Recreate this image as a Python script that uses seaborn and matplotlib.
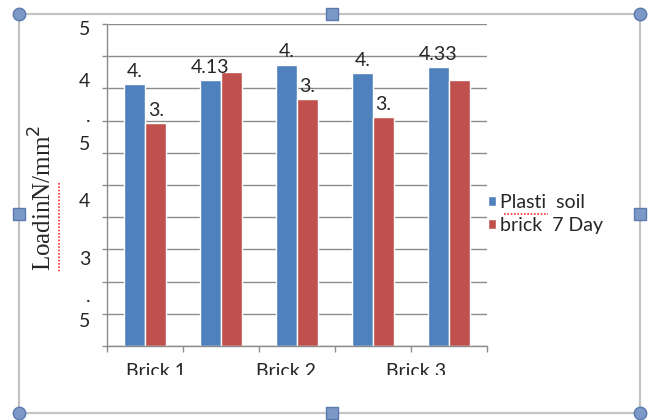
import numpy as np
import pandas as pd
import seaborn as sns
import matplotlib.pyplot as plt
from matplotlib.transforms import Bbox

# ---------------------------------------------------------------
# data (load in N/mm^2)
categories = ['B1', 'B2', 'B3', 'B4', 'B5']
series_names = ['Plasti  soil', 'brick  7 Day']
plasti_soil = [4.07, 4.13, 4.37, 4.24, 4.33]
brick_7day = [3.46, 4.25, 3.84, 3.56, 4.13]

# data labels as they show (truncated by Excel)
plasti_labels = ['4.', '4.13', '4.', '4.', '4.33']
brick_labels = ['3.', '', '3.', '3.', '']

# category labels that survive on the axis
xlabel_text = ['Brick 1', 'Brick 2', 'Brick 3']
xlabel_pos = [0.145, 1.855, 3.566]

# garbled y tick labels (wrapped text), and where they sit
ylabel_text = ['5', '4', '.', '5', '4', '3', '.', '5']
ylabel_pos = [4.94, 4.13, 3.59, 3.15, 2.27, 1.37, 0.79, 0.40]
# ---------------------------------------------------------------

df = pd.DataFrame({
    'Category': categories * 2,
    'Load': plasti_soil + brick_7day,
    'Series': [series_names[0]] * len(categories) + [series_names[1]] * len(categories),
})

colors = {series_names[0]: '#4F81BD', series_names[1]: '#C0504D'}

sns.set_style('white')
plt.rcParams['font.family'] = ['Lato', 'DejaVu Sans']

fig = plt.figure(figsize=(6.54, 4.2), dpi=100)

# selection frame of the embedded object (pixel coords)
bg = fig.add_axes([0, 0, 1, 1], zorder=-5)
bg.set_xlim(0, 654)
bg.set_ylim(420, 0)
bg.axis('off')
frame_x = [19, 640, 640, 19, 19]
frame_y = [14, 14, 413, 413, 14]
bg.plot(frame_x, frame_y, color='#c4c4c4', lw=1.6)
bg.plot([19, 640, 19, 640], [14, 14, 413, 413], 'o', ms=9,
        mfc='#7b98c6', mec='#5b7aae', mew=1)
bg.plot([332, 19, 640, 332], [14, 214, 214, 413], 's', ms=8,
        mfc='#7b98c6', mec='#5b7aae', mew=1)

ax = fig.add_axes([0.1636, 0.1762, 0.581, 0.7667])
sns.barplot(data=df, x='Category', y='Load', hue='Series', palette=colors,
            width=0.56, saturation=1.0, ax=ax, legend=True)

ax.set_ylim(0, 5)
ax.set_xlim(-0.5, 4.5)

# gridlines every 0.5
ax.set_yticks(np.arange(0, 5.01, 0.5))
ax.set_yticklabels([])
ax.yaxis.grid(True, color='#8c8c8c', lw=1)
ax.set_axisbelow(True)
ax.tick_params(axis='y', which='major', direction='out', length=3.5, color='#8c8c8c', width=1, left=True)
ax.set_yticks(ylabel_pos, minor=True)
ax.set_yticklabels(ylabel_text, minor=True, fontsize=14)
ax.tick_params(axis='y', which='minor', length=0, pad=12)

# category boundaries as ticks, labels placed separately
ax.set_xticks(np.arange(-0.5, 4.6, 1.0))
ax.set_xticklabels([])
ax.tick_params(axis='x', which='major', direction='out', length=4, color='#8c8c8c', width=1, bottom=True)
ax.set_xticks(xlabel_pos, minor=True)
ax.set_xticklabels(xlabel_text, minor=True, fontsize=14)
ax.tick_params(axis='x', which='minor', length=0, pad=12)

for sp in ['top', 'right']:
    ax.spines[sp].set_visible(False)
for sp in ['left', 'bottom']:
    ax.spines[sp].set_color('#8c8c8c')
    ax.spines[sp].set_linewidth(1)

ax.set_xlabel('')
ax.set_ylabel('LoadinN/mm$^2$', family='Liberation Serif', fontsize=18)
ax.yaxis.set_label_coords(-0.132, 0.46)

# data labels
ax.bar_label(ax.containers[0], labels=plasti_labels, padding=3, fontsize=14)
ax.bar_label(ax.containers[1], labels=brick_labels, padding=3, fontsize=14)

# legend to the right of the plot
handles, labels = ax.get_legend_handles_labels()
ax.legend(handles, labels, loc='upper left', bbox_to_anchor=(488 / 654, 1 - 194 / 420),
          bbox_transform=fig.transFigure, frameon=False, fontsize=14,
          handlelength=0.42, handleheight=0.42, handletextpad=0.2, labelspacing=0.3,
          borderaxespad=0, borderpad=0)

fig.canvas.draw()
# category labels are cut off at the bottom of the chart area
clip = Bbox.from_extents(0, 420 - 375, 654, 420)
for t in ax.get_xticklabels(minor=True):
    t.set_clip_box(clip)
    t.set_clip_on(True)

# spell-check squiggles
bg.plot([504, 548], [214, 214], color='#ff3030', lw=1.2, ls=(0, (1, 1)))
bg.plot([59, 59], [183, 273], color='#ff3030', lw=1.2, ls=(0, (1, 1)))

fig.savefig('out.png', dpi=100)
